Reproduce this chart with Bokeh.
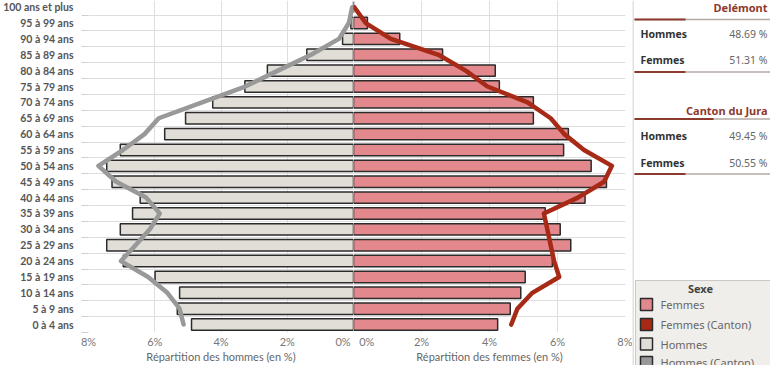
from bokeh.plotting import figure
from bokeh.models import Range1d, FixedTicker
from bokeh.layouts import row, column
from bokeh.embed import file_html
from bokeh.resources import INLINE
from bokeh.core.properties import value

# ---------------- data ----------------
categories = ["0 à 4 ans", "5 à 9 ans", "10 à 14 ans", "15 à 19 ans", "20 à 24 ans",
              "25 à 29 ans", "30 à 34 ans", "35 à 39 ans", "40 à 44 ans", "45 à 49 ans",
              "50 à 54 ans", "55 à 59 ans", "60 à 64 ans", "65 à 69 ans", "70 à 74 ans",
              "75 à 79 ans", "80 à 84 ans", "85 à 89 ans", "90 à 94 ans", "95 à 99 ans",
              "100 ans et plus"]
hommes = [4.89, 5.32, 5.25, 5.99, 6.95, 7.45, 7.04, 6.67, 6.44, 7.29,
          7.45, 7.04, 5.70, 5.07, 4.25, 3.28, 2.60, 1.41, 0.33, 0.08, 0.0]
femmes = [4.24, 4.61, 4.92, 5.05, 5.85, 6.39, 6.08, 5.64, 6.81, 7.44,
          6.99, 6.18, 6.32, 5.29, 5.29, 4.29, 4.17, 2.62, 1.36, 0.41, 0.0]
hommes_canton = [5.13, 5.25, 5.62, 6.20, 7.02, 6.58, 6.15, 5.85, 6.26, 7.16,
                 7.70, 6.96, 6.31, 5.88, 4.57, 3.27, 2.28, 1.28, 0.44, 0.14, 0.04]
femmes_canton = [4.64, 4.82, 5.26, 6.05, 5.90, 5.80, 5.70, 5.60, 6.60, 7.37,
                 7.60, 6.78, 6.20, 5.80, 5.12, 3.94, 3.30, 2.50, 1.10, 0.36, 0.02]
x_ticks = [0, 2, 4, 6, 8]
x_tick_labels = ["0%", "2%", "4%", "6%", "8%"]

summary_titles = ["Delémont", "Canton du Jura"]
summary_hommes = ["48.69 %", "49.45 %"]
summary_femmes = ["51.31 %", "50.55 %"]
row_labels = ["Hommes", "Femmes"]
legend_title = "Sexe"
legend_labels = ["Femmes", "Femmes (Canton)", "Hommes", "Hommes (Canton)"]

# ---------------- styles ----------------
FONT = value("Noto Sans")
C_F = "#e3898d"
C_FC = "#a62a16"
C_H = "#e1ded7"
C_HC = "#999999"
C_OUT = "#2b2b2b"
GRID = "#dedede"
DARK = "#8b3a2e"

H = 365
BOTTOM = 26
idx = list(range(len(categories)))
bounds = [i - 0.5 for i in range(len(categories))]
NB = "\u00a0"


def base(fig, label):
    fig.outline_line_color = None
    fig.background_fill_color = "white"
    fig.border_fill_color = "white"
    fig.xgrid.ticker = FixedTicker(ticks=x_ticks)
    fig.xgrid.grid_line_color = GRID
    fig.ygrid.ticker = FixedTicker(ticks=bounds)
    fig.ygrid.grid_line_color = GRID
    ax = fig.xaxis[0]
    ax.ticker = FixedTicker(ticks=x_ticks)
    ax.axis_line_color = None
    ax.major_tick_out = 0
    ax.major_tick_in = 0
    ax.minor_tick_line_color = None
    ax.major_label_text_font = "Lato"
    ax.major_label_text_font_size = "11px"
    ax.major_label_text_color = "#777777"
    ax.major_label_standoff = 2
    ax.axis_label = label
    ax.axis_label_text_font = "Lato"
    ax.axis_label_text_font_size = "11px"
    ax.axis_label_text_font_style = "normal"
    ax.axis_label_text_color = "#666666"
    ax.axis_label_standoff = -1


y_range = Range1d(-0.5, 20.42)

# ---------------- left: hommes ----------------
left = figure(width=353, height=H, x_range=Range1d(8, 0), y_range=y_range,
              output_backend="svg", toolbar_location=None, title=None,
              min_border_left=85, min_border_right=0, min_border_top=0,
              min_border_bottom=BOTTOM)
base(left, "Répartition des hommes (en %)")
lab_l = dict(zip(x_ticks, x_tick_labels))
lab_l[0] = x_tick_labels[0] + NB
left.xaxis[0].major_label_overrides = lab_l

yax = left.yaxis[0]
yax.ticker = FixedTicker(ticks=idx, minor_ticks=bounds)
yax.major_label_overrides = {i: c for i, c in zip(idx, categories)}
yax.major_tick_out = 0
yax.major_tick_in = 0
yax.minor_tick_out = 7
yax.minor_tick_in = 0
yax.minor_tick_line_color = "#d0d0d0"
yax.axis_line_color = None
yax.major_label_standoff = 8
yax.major_label_text_font = "Lato"
yax.major_label_text_font_style = "bold"
yax.major_label_text_font_size = "10.5px"
yax.major_label_text_color = "#555555"

left.hbar(y=idx, left=0, right=hommes, height=0.72, fill_color=C_H,
          line_color=C_OUT, line_width=1.5)
left.line(x=hommes_canton, y=idx, line_color=C_HC, line_width=4.5,
          line_join="round", line_cap="round")

# ---------------- right: femmes ----------------
right = figure(width=279, height=H, x_range=Range1d(0, 8), y_range=y_range,
               output_backend="svg", toolbar_location=None, title=None,
               y_axis_location=None,
               min_border_left=0, min_border_right=7, min_border_top=0,
               min_border_bottom=BOTTOM)
base(right, "Répartition des femmes (en %)")
lab_r = dict(zip(x_ticks, x_tick_labels))
lab_r[0] = NB * 2 + x_tick_labels[0]
right.xaxis[0].major_label_overrides = lab_r

right.hbar(y=idx, left=0, right=femmes, height=0.72, fill_color=C_F,
           line_color=C_OUT, line_width=1.5)
right.line(x=femmes_canton, y=idx, line_color=C_FC, line_width=4.5,
           line_join="round", line_cap="round")

# ---------------- panel ----------------
PW = 138
panel = figure(width=PW, height=H, x_range=Range1d(2, 2 + PW), y_range=Range1d(H, 0),
               output_backend="svg", toolbar_location=None, title=None,
               min_border=0, x_axis_location=None, y_axis_location=None)
panel.outline_line_color = None
panel.xgrid.visible = False
panel.ygrid.visible = False
panel.segment(x0=[2.5], y0=[0], x1=[2.5], y1=[H], line_color="#d6d6d6", line_width=1.5)

blocks = [
    dict(title_y=7, line1=19, rows=(33, 59), line2=71.5, dark1=55),
    dict(title_y=110, line1=118.5, rows=(135, 162), line2=173.5, dark1=83),
]
for b, t, vh, vf in zip(blocks, summary_titles, summary_hommes, summary_femmes):
    panel.text(x=[137], y=[b["title_y"]], text=[t], text_align="right",
               text_baseline="middle", text_font=FONT, text_font_size="11px",
               text_font_style="bold", text_color=DARK)
    for ly, dk in ((b["line1"], b["dark1"]), (b["line2"], 55)):
        panel.segment(x0=[4], y0=[ly], x1=[2 + PW], y1=[ly], line_color="#b3aaa6", line_width=1.5)
        panel.segment(x0=[4], y0=[ly], x1=[dk], y1=[ly], line_color=DARK, line_width=2)
    panel.text(x=[10, 10], y=list(b["rows"]), text=row_labels, text_align="left",
               text_baseline="middle", text_font=FONT, text_font_size="10.5px",
               text_font_style="bold", text_color="#333333")
    panel.text(x=[137, 137], y=list(b["rows"]), text=[vh, vf], text_align="right",
               text_baseline="middle", text_font=FONT, text_font_size="10.5px",
               text_color="#666666")

# legend box
panel.quad(left=[5], right=[PW + 8], top=[280], bottom=[H + 10],
           fill_color="#f0eeeb", line_color="#c8c8c8", line_width=1)
panel.text(x=[70], y=[288], text=[legend_title], text_align="center",
           text_baseline="middle", text_font=FONT, text_font_size="11px",
           text_font_style="bold", text_color="#444444")
leg_y = [304, 324, 343.5, 362]
panel.rect(x=[16] * 4, y=leg_y, width=12, height=12,
           fill_color=[C_F, C_FC, C_H, C_HC], line_color=C_OUT, line_width=1.5)
panel.text(x=[30] * 4, y=leg_y, text=legend_labels, text_align="left",
           text_baseline="middle", text_font=FONT, text_font_size="11px",
           text_color="#666666")

layout = row(left, right, column(panel))
open("out.html", "w").write(file_html(layout, INLINE))
